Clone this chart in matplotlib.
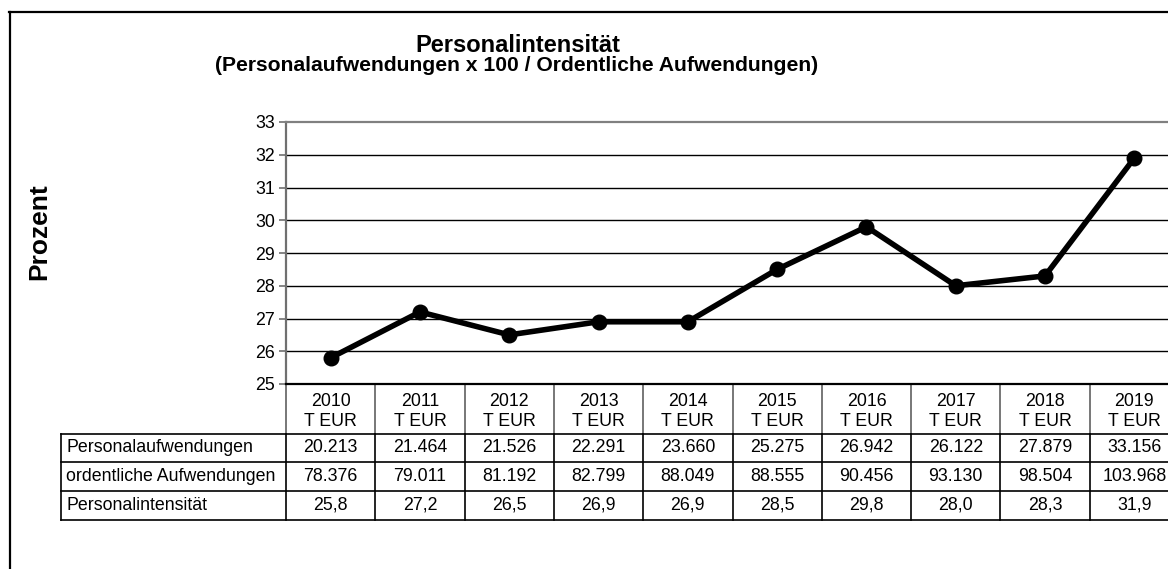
import matplotlib
matplotlib.use("Agg")
import matplotlib.pyplot as plt
import matplotlib.transforms as mtransforms
from matplotlib.lines import Line2D

# ---- data ----
years = ["2010", "2011", "2012", "2013", "2014", "2015", "2016", "2017", "2018", "2019"]
unit = "T EUR"
personalaufwendungen = ["20.213", "21.464", "21.526", "22.291", "23.660",
                        "25.275", "26.942", "26.122", "27.879", "33.156"]
ordentliche_aufwendungen = ["78.376", "79.011", "81.192", "82.799", "88.049",
                            "88.555", "90.456", "93.130", "98.504", "103.968"]
personalintensitaet = [25.8, 27.2, 26.5, 26.9, 26.9, 28.5, 29.8, 28.0, 28.3, 31.9]
row_labels = ["Personalaufwendungen", "ordentliche Aufwendungen", "Personalintensität"]
y_ticks = [25, 26, 27, 28, 29, 30, 31, 32, 33]
title1 = "Personalintensität"
title2 = "(Personalaufwendungen x 100 / Ordentliche Aufwendungen)"
ylabel = "Prozent"

plt.rcParams['font.family'] = ['Liberation Sans', 'DejaVu Sans']

W, H = 1168, 569
fig = plt.figure(figsize=(W / 100, H / 100), dpi=100)
fig.patch.set_facecolor('white')


def fx(px):
    return px / W


def fy(py):
    return 1 - py / H


# outer frame (only left and top visible)
fig.add_artist(Line2D([fx(9.5), fx(9.5)], [fy(12), fy(H + 5)], color='black', lw=1.6,
                      transform=fig.transFigure))
fig.add_artist(Line2D([fx(9), fx(W + 5)], [fy(12), fy(12)], color='black', lw=1.6,
                      transform=fig.transFigure))

# ---- plot area ----
ax_l, ax_r, ax_t, ax_b = 286, 1179, 122, 384
ax = fig.add_axes([fx(ax_l), fy(ax_b), (ax_r - ax_l) / W, (ax_b - ax_t) / H])
xs = list(range(len(years)))
ax.set_xlim(-0.5, len(years) - 0.5)
ax.set_ylim(y_ticks[0], y_ticks[-1])
ax.set_yticks(y_ticks)
ax.set_xticks([])
for v in y_ticks[1:-1]:
    ax.axhline(v, color='black', lw=1.0, zorder=1)
ax.plot(xs, personalintensitaet, color='black', lw=4, marker='o', ms=10.5,
        zorder=3, clip_on=False)
ax.spines['right'].set_visible(False)
ax.spines['top'].set_color('#808080')
ax.spines['top'].set_linewidth(1.6)
ax.spines['left'].set_color('#707070')
ax.spines['left'].set_linewidth(1.6)
ax.spines['bottom'].set_color('black')
ax.spines['bottom'].set_linewidth(1.6)
ax.tick_params(axis='y', length=5, width=1.2, color='#707070', labelsize=12.8, pad=3)

# titles
fig.text(fx(518), fy(52), title1, ha='center', va='baseline', fontsize=17, fontweight='bold')
fig.text(fx(516.5), fy(71), title2, ha='center', va='baseline', fontsize=15.2, fontweight='bold')
fig.text(fx(39), fy(232), ylabel, ha='center', va='center', rotation=90,
         fontsize=19, fontweight='bold')

# ---- data table ----
tr = mtransforms.blended_transform_factory(ax.transData, fig.transFigure)
rows_y = [434, 462, 491, 520]
header_top = 384
label_left = 61
fs_tab = 12.8

# header
for i, yr in enumerate(years):
    ax.text(i, fy(401), yr, transform=tr, ha='center', va='center', fontsize=fs_tab, clip_on=False)
    ax.text(i, fy(421), unit, transform=tr, ha='center', va='center', fontsize=fs_tab, clip_on=False)

# vertical lines
for i in range(len(years) + 1):
    xb = i - 0.5
    ax.add_line(Line2D([xb, xb], [fy(header_top), fy(rows_y[0])], transform=tr,
                       color='#606060', lw=1.2, clip_on=False))
    ax.add_line(Line2D([xb, xb], [fy(rows_y[0]), fy(rows_y[-1])], transform=tr,
                       color='black', lw=1.2, clip_on=False))
fig.add_artist(Line2D([fx(label_left), fx(label_left)], [fy(rows_y[0]), fy(rows_y[-1])],
                      color='black', lw=1.2, transform=fig.transFigure))
# horizontal lines
for yy in rows_y:
    fig.add_artist(Line2D([fx(label_left), fx(W + 5)], [fy(yy), fy(yy)],
                          color='black', lw=1.2, transform=fig.transFigure))

table_rows = [personalaufwendungen, ordentliche_aufwendungen,
              [f"{v:.1f}".replace('.', ',') for v in personalintensitaet]]
for r, (lab, vals) in enumerate(zip(row_labels, table_rows)):
    yc = (rows_y[r] + rows_y[r + 1]) / 2
    fig.text(fx(66), fy(yc), lab, ha='left', va='center', fontsize=fs_tab)
    for i, v in enumerate(vals):
        ax.text(i, fy(yc), v, transform=tr, ha='center', va='center', fontsize=fs_tab, clip_on=False)

fig.savefig("out.png", dpi=100)
